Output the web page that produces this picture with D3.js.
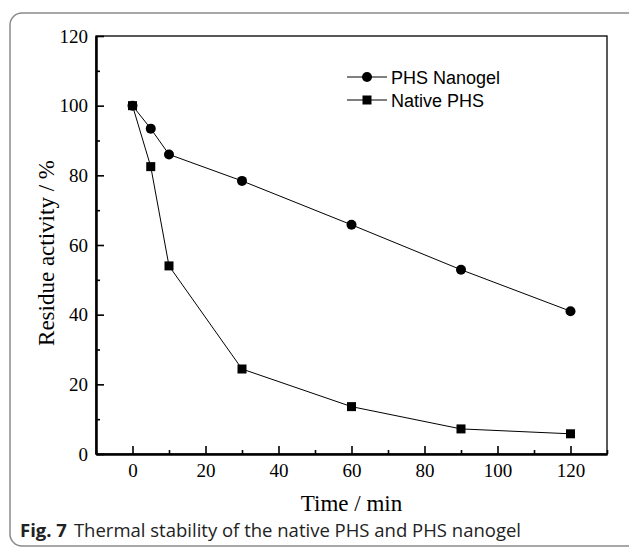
<!DOCTYPE html>
<html>
<head>
<meta charset="utf-8">
<script src="https://cdn.jsdelivr.net/npm/d3@7"></script>
<style>
  html, body { margin: 0; padding: 0; background: #fff; }
  svg { display: block; }
</style>
</head>
<body>
<svg id="chart" width="629" height="548"></svg>
<script>
// ---- data ----
const times = [0, 5, 10, 30, 60, 90, 120];
const nanogel = [100, 93.4, 86, 78.4, 65.8, 52.9, 41];
const native = [100, 82.5, 54, 24.4, 13.6, 7.2, 5.8];
const seriesNames = ["PHS Nanogel", "Native PHS"];
const xTicks = [0, 20, 40, 60, 80, 100, 120];
const yTicks = [0, 20, 40, 60, 80, 100, 120];
const xMinor = [-10, 10, 30, 50, 70, 90, 110, 130];
const yMinor = [10, 30, 50, 70, 90, 110];

const svg = d3.select("#chart");
const m = { left: 96, right: 607, top: 36, bottom: 454 };

// frame
svg.append("rect")
  .attr("x", 10).attr("y", 13)
  .attr("width", 630).attr("height", 533)
  .attr("rx", 12).attr("ry", 12)
  .attr("fill", "none").attr("stroke", "#8a8a8a").attr("stroke-width", 1.5);

const x = d3.scaleLinear().domain([-10, 130]).range([m.left, m.right]);
const y = d3.scaleLinear().domain([0, 120]).range([m.bottom, m.top]);

const serif = "'Liberation Serif', 'Times New Roman', serif";

// plot box top & right
svg.append("rect")
  .attr("x", m.left).attr("y", m.top)
  .attr("width", m.right - m.left).attr("height", m.bottom - m.top)
  .attr("fill", "none").attr("stroke", "#000").attr("stroke-width", 1.3);

// x axis
const xAxis = d3.axisBottom(x).tickValues(xTicks).tickSizeInner(-8).tickSizeOuter(0).tickPadding(10).tickFormat(d3.format("d"));
const gx = svg.append("g").attr("transform", `translate(0,${m.bottom})`).call(xAxis);
const xAxisMinor = d3.axisBottom(x).tickValues(xMinor).tickSizeInner(-4).tickSizeOuter(0).tickFormat("");
const gxm = svg.append("g").attr("transform", `translate(0,${m.bottom})`).call(xAxisMinor);

// y axis
const yAxis = d3.axisLeft(y).tickValues(yTicks).tickSizeInner(-8).tickSizeOuter(0).tickPadding(8).tickFormat(d3.format("d"));
const gy = svg.append("g").attr("transform", `translate(${m.left},0)`).call(yAxis);
const yAxisMinor = d3.axisLeft(y).tickValues(yMinor).tickSizeInner(-4).tickSizeOuter(0).tickFormat("");
const gym = svg.append("g").attr("transform", `translate(${m.left},0)`).call(yAxisMinor);

[gx, gxm, gy, gym].forEach(g => {
  g.select(".domain").attr("stroke", "#000").attr("stroke-width", 2);
  g.selectAll(".tick line").attr("stroke", "#000").attr("stroke-width", 1.6);
  g.selectAll(".tick text").attr("font-family", serif).attr("font-size", 19).attr("fill", "#000");
});

// axis titles
svg.append("text")
  .attr("x", (m.left + m.right) / 2).attr("y", 511)
  .attr("text-anchor", "middle")
  .attr("font-family", serif).attr("font-size", 23)
  .text("Time / min");

svg.append("text")
  .attr("transform", `translate(54,${(m.top + m.bottom) / 2 + 8}) rotate(-90)`)
  .attr("text-anchor", "middle")
  .attr("font-family", serif).attr("font-size", 23)
  .text("Residue activity / %");

// series
const line = d3.line().x((d, i) => x(times[i])).y(d => y(d));
[nanogel, native].forEach(vals => {
  svg.append("path").datum(vals)
    .attr("d", line).attr("fill", "none").attr("stroke", "#000").attr("stroke-width", 1);
});

svg.append("g").selectAll("circle").data(nanogel).join("circle")
  .attr("cx", (d, i) => x(times[i])).attr("cy", d => y(d)).attr("r", 5).attr("fill", "#000");

const sq = 9;
svg.append("g").selectAll("rect").data(native).join("rect")
  .attr("x", (d, i) => x(times[i]) - sq / 2).attr("y", d => y(d) - sq / 2)
  .attr("width", sq).attr("height", sq).attr("fill", "#000");

// legend
const legX = 347, legY = [77, 100];
seriesNames.forEach((name, i) => {
  const g = svg.append("g").attr("transform", `translate(${legX},${legY[i]})`);
  g.append("line").attr("x1", 0).attr("x2", 40).attr("y1", 0).attr("y2", 0).attr("stroke", "#000").attr("stroke-width", 1);
  if (i === 0) g.append("circle").attr("cx", 20).attr("cy", 0).attr("r", 5).attr("fill", "#000");
  else g.append("rect").attr("x", 20 - sq / 2).attr("y", -sq / 2).attr("width", sq).attr("height", sq).attr("fill", "#000");
  g.append("text").attr("x", 44).attr("y", 6.5)
    .attr("font-family", "'Liberation Sans', Arial, sans-serif").attr("font-size", 18)
    .text(name);
});

// caption
const cap = svg.append("text").attr("x", 20).attr("y", 537)
  .attr("font-family", "'Open Sans', 'Noto Sans', sans-serif").attr("font-size", 18.5).attr("fill", "#222");
cap.append("tspan").attr("font-weight", "bold").text("Fig. 7");
cap.append("tspan").attr("dx", 7).text("Thermal stability of the native PHS and PHS nanogel");
</script>
</body>
</html>
